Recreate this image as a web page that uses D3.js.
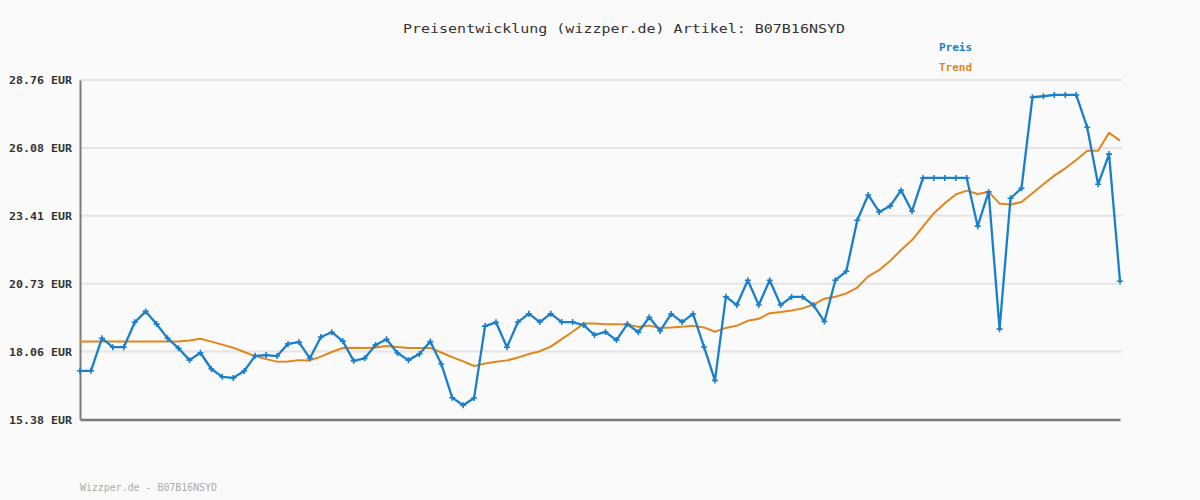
<!DOCTYPE html>
<html><head><meta charset="utf-8">
<script src="https://cdn.jsdelivr.net/npm/d3@7"></script>
<style>html,body{margin:0;padding:0;background:#fafafa;}svg{display:block;}</style>
</head><body>
<svg id="c" width="1200" height="500"></svg>
<script>
const titleText = "Preisentwicklung (wizzper.de) Artikel: B07B16NSYD";
const footerText = "Wizzper.de - B07B16NSYD";
const seriesNames = ["Preis", "Trend"];
const tickValues = [15.38, 18.06, 20.73, 23.41, 26.08, 28.76];
const priceValues = [
 17.30,17.30,18.58,18.23,18.23,19.21,19.64,19.14,18.58,18.19,
 17.72,18.01,17.37,17.06,17.02,17.29,17.89,17.92,17.88,18.36,
 18.43,17.79,18.63,18.82,18.47,17.69,17.79,18.32,18.54,18.00,
 17.72,17.96,18.45,17.57,16.24,15.94,16.23,19.06,19.21,18.23,
 19.22,19.55,19.22,19.55,19.22,19.22,19.10,18.71,18.83,18.51,
 19.14,18.82,19.41,18.87,19.54,19.22,19.54,18.24,16.92,20.22,
 19.89,20.87,19.89,20.87,19.89,20.21,20.21,19.89,19.24,20.87,
 21.22,23.23,24.23,23.56,23.79,24.41,23.59,24.90,24.90,24.90,
 24.90,24.90,23.00,24.35,18.94,24.10,24.49,28.08,28.12,28.17,
 28.17,28.17,26.90,24.65,25.84,20.83
];
const trendValues = [
 18.45,18.45,18.45,18.45,18.45,18.45,18.45,18.45,18.45,18.45,
 18.49,18.56,18.45,18.33,18.21,18.04,17.88,17.76,17.66,17.67,
 17.72,17.71,17.86,18.04,18.20,18.21,18.20,18.22,18.28,18.24,
 18.20,18.20,18.20,18.02,17.84,17.67,17.49,17.59,17.66,17.71,
 17.82,17.96,18.07,18.25,18.55,18.84,19.16,19.16,19.13,19.13,
 19.12,19.03,19.08,18.99,19.01,19.04,19.07,19.01,18.84,18.99,
 19.08,19.27,19.35,19.57,19.62,19.68,19.76,19.91,20.14,20.22,
 20.35,20.58,21.02,21.27,21.63,22.06,22.45,22.98,23.51,23.90,
 24.25,24.40,24.27,24.35,23.89,23.85,23.95,24.30,24.65,24.99,
 25.28,25.61,25.97,25.97,26.68,26.37
];

const blue = "#1a7fca", orange = "#e0861c";
const svg = d3.select("#c");
svg.append("rect").attr("width",1200).attr("height",500).attr("fill","#fafafa");

const x = d3.scaleLinear().domain([0, priceValues.length-1]).range([80, 1120]);
const y = d3.scaleLinear().domain([15.38, 28.76]).range([419.5, 80]);
const mono = "'DejaVu Sans Mono', 'Liberation Mono', monospace";

// gridlines
svg.append("g").selectAll("line").data(tickValues.slice(1)).join("line")
  .attr("x1",80).attr("x2",1122).attr("y1",d=>y(d)).attr("y2",d=>y(d))
  .attr("stroke","#e4e4e4").attr("stroke-width",2);

// y axis
const yAxis = svg.append("g").attr("transform","translate(80,0)")
  .call(d3.axisLeft(y).tickValues(tickValues).tickSize(0).tickPadding(8)
    .tickFormat(d=>d.toFixed(2)+" EUR"));
yAxis.select(".domain").attr("stroke","#7a7a7a").attr("stroke-width",2);
yAxis.selectAll("text").attr("font-family",mono).attr("font-size",11).attr("font-weight","bold")
  .attr("fill","#333").attr("textLength",63).attr("lengthAdjust","spacingAndGlyphs");

// x axis baseline
const xAxis = svg.append("g").attr("transform","translate(0,419.5)")
  .call(d3.axisBottom(x).tickValues([]).tickSizeOuter(0));
xAxis.select(".domain").attr("stroke","#7a7a7a").attr("stroke-width",2.5);

// lines
const line = d3.line().x((d,i)=>x(i)).y(d=>y(d));
svg.append("path").datum(trendValues).attr("d",line).attr("fill","none")
  .attr("stroke",orange).attr("stroke-width",2).attr("stroke-linejoin","round");
svg.append("path").datum(priceValues).attr("d",line).attr("fill","none")
  .attr("stroke",blue).attr("stroke-width",2.3).attr("stroke-linejoin","round");
svg.append("g").selectAll("path").data(priceValues).join("path")
  .attr("d",(d,i)=>{const cx=x(i),cy=y(d);return `M${cx-3},${cy}H${cx+3}M${cx},${cy-3}V${cy+3}`;})
  .attr("stroke",blue).attr("stroke-width",1.6);

// title
svg.append("text").attr("x",624).attr("y",33).attr("text-anchor","middle")
  .attr("font-family",mono).attr("font-size",13).attr("fill","#333")
  .attr("textLength",442).attr("lengthAdjust","spacingAndGlyphs").text(titleText);

// legend
svg.selectAll("text.leg").data(seriesNames).join("text").attr("class","leg")
  .attr("x",939).attr("y",(d,i)=>51+i*20)
  .attr("font-family",mono).attr("font-size",11).attr("font-weight","bold")
  .attr("fill",(d,i)=>i===0?blue:orange).text(d=>d);

// footer
svg.append("text").attr("x",80).attr("y",491)
  .attr("font-family",mono).attr("font-size",10).attr("fill","#aaa")
  .attr("textLength",137).attr("lengthAdjust","spacingAndGlyphs").text(footerText);
</script>
</body></html>
